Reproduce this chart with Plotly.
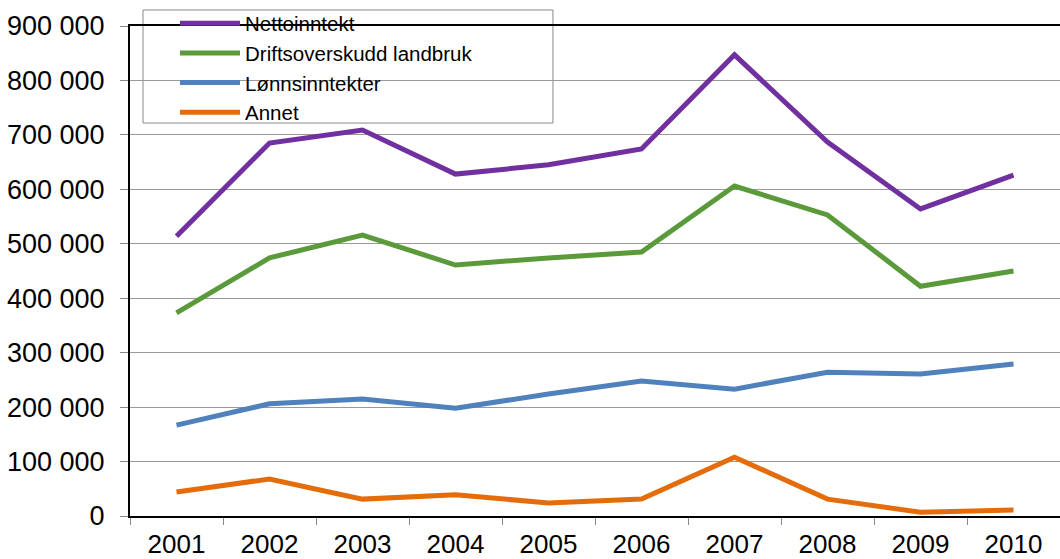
import plotly.graph_objects as go

years = ["2001", "2002", "2003", "2004", "2005", "2006", "2007", "2008", "2009", "2010"]
nettoinntekt = [514000, 685000, 709000, 628000, 645000, 674000, 847000, 687000, 564000, 626000]
driftsoverskudd = [373000, 474000, 516000, 461000, 474000, 485000, 606000, 553000, 422000, 450000]
lonnsinntekter = [167000, 206000, 215000, 198000, 224000, 248000, 233000, 264000, 261000, 279000]
annet = [44000, 68000, 31000, 39000, 24000, 31000, 108000, 31000, 7000, 11000]

series_names = ["Nettoinntekt", "Driftsoverskudd landbruk", "Lønnsinntekter", "Annet"]
series_values = [nettoinntekt, driftsoverskudd, lonnsinntekter, annet]
colors = ["#7030A0", "#5B9A3A", "#4F81BD", "#E46C0A"]

y_tickvals = [0, 100000, 200000, 300000, 400000, 500000, 600000, 700000, 800000, 900000]
y_ticktext = ["0", "100 000", "200 000", "300 000", "400 000", "500 000",
              "600 000", "700 000", "800 000", "900 000"]

fig = go.Figure()
for name, vals, col in zip(series_names, series_values, colors):
    fig.add_trace(go.Scatter(x=years, y=vals, name=name, mode="lines",
                             line=dict(color=col, width=5)))

font = "Liberation Sans, Arial, sans-serif"
fig.update_layout(
    width=1060, height=559,
    margin=dict(l=130, r=0, t=26, b=43, autoexpand=False),
    paper_bgcolor="white", plot_bgcolor="white",
    font=dict(family=font, color="black", size=26),
    showlegend=True,
    legend=dict(x=0.0484, y=1.046, xanchor="left", yanchor="top",
                bgcolor="rgba(0,0,0,0)", borderwidth=0,
                font=dict(size=20.5, family=font), itemwidth=60,
                tracegroupgap=0, traceorder="normal"),
    xaxis=dict(type="category", range=[-0.5, 9.5], showgrid=False, automargin=False,
               showline=True, linecolor="black", linewidth=2, mirror=True,
               ticks="outside", tickson="boundaries", ticklen=7,
               tickcolor="#888888", tickfont=dict(size=26), zeroline=False,
               ticklabelstandoff=4),
    yaxis=dict(range=[0, 900000], tickvals=y_tickvals, ticktext=y_ticktext, automargin=False,
               showgrid=True, gridcolor="#999999", gridwidth=1,
               showline=True, linecolor="black", linewidth=2,
               ticks="outside", ticklen=8, tickcolor="#888888",
               tickfont=dict(size=27), zeroline=False, ticklabelstandoff=10),
    shapes=[dict(type="rect", xref="paper", yref="paper",
                 x0=0.01398, x1=0.4548, y0=0.802, y1=1.0327,
                 fillcolor="white", line=dict(color="#888888", width=1), layer="below")],
)

fig.write_html("out.html", config={"displayModeBar": False},
               post_script="document.body.style.margin='0';document.body.style.overflow='hidden';")
